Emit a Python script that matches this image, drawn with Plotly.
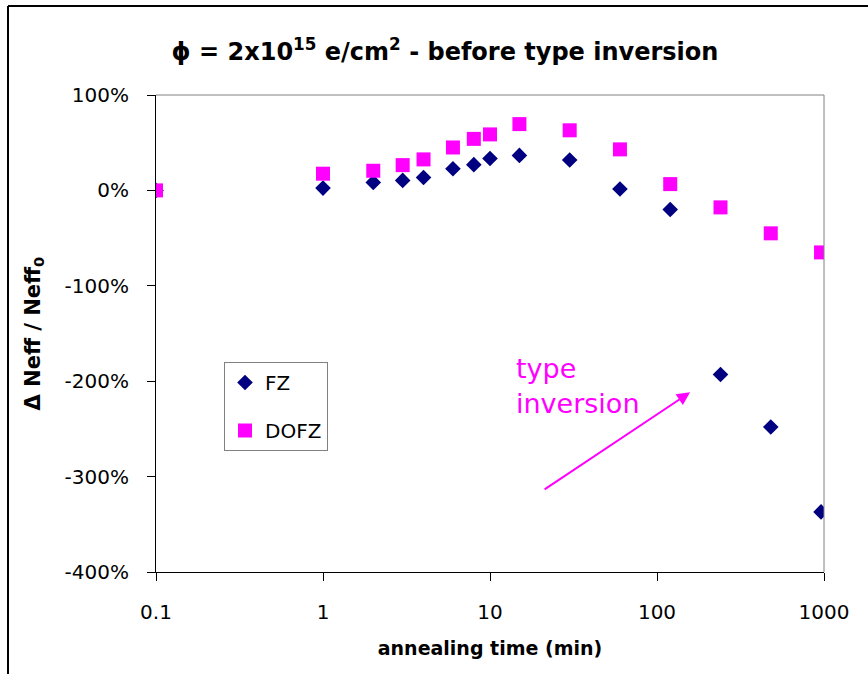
import plotly.graph_objects as go

# Annealing time (min) and relative change of Neff (%)
time_min = [0.1, 1, 2, 3, 4, 6, 8, 10, 15, 30, 60, 120, 240, 480, 960]
fz_pct = [0, 2.4, 8.4, 10.5, 13.6, 22.7, 27, 33.5, 36.7, 31.8, 1.4, -20, -193, -248, -337]
dofz_pct = [0, 17.5, 20.6, 26.5, 32.5, 45, 54, 58.7, 69.5, 63, 43, 6.6, -17.8, -45, -65]

x_ticks = [0.1, 1, 10, 100, 1000]
x_tick_text = ["0.1", "1", "10", "100", "1000"]
y_ticks = [100, 0, -100, -200, -300, -400]
y_tick_text = ["100%", "0%", "-100%", "-200%", "-300%", "-400%"]

FONT = "DejaVu Sans"
W, H = 868, 674
L, R, T, B = 156, 44, 95, 102
pw, ph = W - L - R, H - T - B


def px_x(p):
    return (p - L) / pw


def px_y(p):
    return (H - B - p) / ph


fig = go.Figure()
fig.add_trace(go.Scatter(
    x=time_min, y=fz_pct, mode="markers", name="FZ", legendgroup="fz",
    marker=dict(symbol="diamond", size=12, color="#000080"),
))
fig.add_trace(go.Scatter(
    x=time_min, y=dofz_pct, mode="markers", name="DOFZ", legendgroup="dofz",
    marker=dict(symbol="square", size=14, color="#FF00FF"),
))

fig.update_layout(
    width=W, height=H,
    margin=dict(l=L, r=R, t=T, b=B),
    paper_bgcolor="white", plot_bgcolor="white",
    font=dict(family=FONT, color="black"),
    title=dict(
        text="<b>ϕ = 2x10<sup>15</sup> e/cm<sup>2</sup> - before type inversion</b>",
        x=445 / W, xanchor="center", y=1 - 52 / H, yanchor="middle",
        font=dict(size=24, family=FONT, color="black"),
    ),
    legend=dict(
        x=px_x(224), y=px_y(362), xanchor="left", yanchor="top",
        bordercolor="#808080", borderwidth=1, bgcolor="white",
        font=dict(size=20, family=FONT), tracegroupgap=19,
    ),
    showlegend=True,
)

fig.update_xaxes(
    type="log", range=[-1, 3],
    tickvals=x_ticks, ticktext=x_tick_text,
    ticks="outside", ticklen=8, tickcolor="black",
    showline=True, linecolor="black", linewidth=1,
    showgrid=False, zeroline=False,
    tickfont=dict(size=20, family=FONT),
    ticklabelstandoff=14,
    title=dict(text="<b>annealing time (min)</b>", font=dict(size=19, family=FONT), standoff=18),
)
fig.update_yaxes(
    range=[-400, 100], tickvals=y_ticks, ticktext=y_tick_text,
    ticks="outside", ticklen=8, tickcolor="black",
    showline=True, linecolor="black", linewidth=1,
    showgrid=False, zeroline=False,
    tickfont=dict(size=20, family=FONT),
    ticklabelstandoff=14,
)

# y-axis title
fig.add_annotation(
    text="<b>Δ Neff / Neff<sub>0</sub></b>", textangle=-90,
    xref="paper", yref="paper", x=px_x(33), y=0.5,
    xanchor="center", yanchor="middle", showarrow=False,
    font=dict(size=21, family=FONT, color="black"),
)

# "type inversion" label and arrow
fig.add_annotation(
    text="type<br>inversion", xref="x", yref="y",
    x=1.144, y=-168, xanchor="left", yanchor="top", align="left",
    showarrow=False, font=dict(size=27, family=FONT, color="#FF00FF"),
)
fig.add_annotation(
    text="", xref="x", yref="y", x=2.198, y=-211.7,
    axref="pixel", ayref="pixel", ax=543 - 690, ay=490 - 392,
    showarrow=True, arrowhead=2, arrowsize=1.3, arrowwidth=2, arrowcolor="#FF00FF",
)

# gray top/right edges of the plot area, and the outer frame
fig.add_shape(type="line", xref="paper", yref="paper", x0=0, y0=1, x1=1, y1=1,
              line=dict(color="#808080", width=1))
fig.add_shape(type="line", xref="paper", yref="paper", x0=1, y0=1, x1=1, y1=0,
              line=dict(color="#808080", width=1))
fig.add_shape(type="line", xref="paper", yref="paper",
              x0=px_x(8), y0=px_y(6), x1=px_x(868), y1=px_y(6),
              line=dict(color="black", width=2))
fig.add_shape(type="line", xref="paper", yref="paper",
              x0=px_x(8), y0=px_y(6), x1=px_x(8), y1=px_y(674),
              line=dict(color="black", width=2))

fig.write_html("out.html")
